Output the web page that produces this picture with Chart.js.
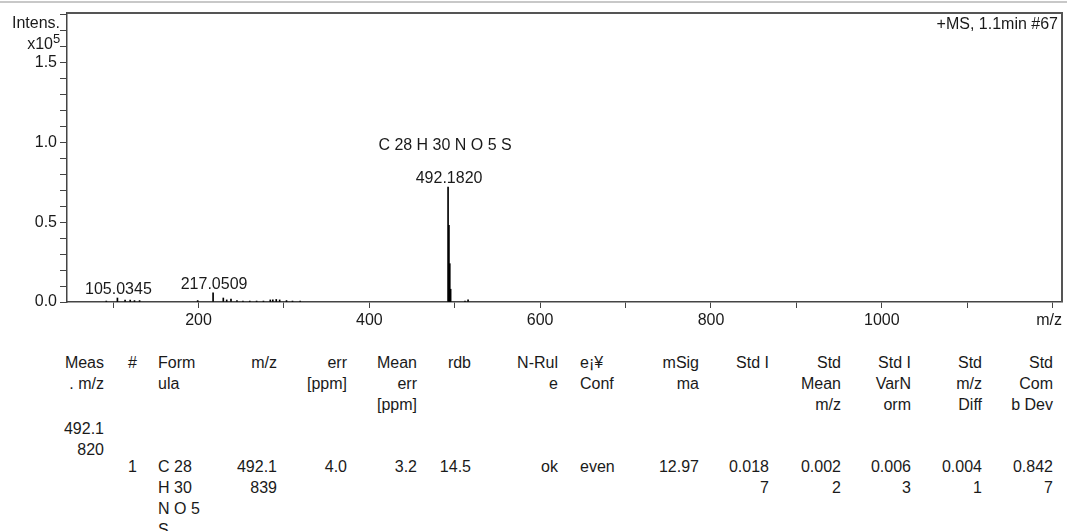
<!DOCTYPE html>
<html>
<head>
<meta charset="utf-8">
<script src="https://cdn.jsdelivr.net/npm/chart.js@4.4.1/dist/chart.umd.min.js"></script>
<style>
body { margin: 0; background: #fff; width: 1067px; height: 531px; overflow: hidden; font-family: 'Liberation Sans', Arial, sans-serif; color: #1a1a1a; }
#topline { position: absolute; left: 0; top: 1px; width: 1067px; height: 2px; background: #c8c8c8; }
#wrap { position: absolute; left: 0; top: 0; width: 1067px; height: 340px; }
.cell { position: absolute; font-size: 16px; line-height: 21px; white-space: pre; }
</style>
</head>
<body>
<div id="topline"></div>
<div id="wrap"><canvas id="msChart" width="1067" height="340"></canvas></div>
<div id="table"></div>
<script>
// stick spectrum: m/z and intensity (x10^5)
const peakMz = [92.0, 105.03, 114.0, 120.0, 125.0, 131.0, 199.0, 217.05, 229.0, 233.0, 238.0, 245.0, 252.0, 260.0, 268.0, 276.0, 284.0, 287.0, 291.0, 295.0, 303.0, 310.0, 319.0, 492.18, 493.19, 494.18, 495.18, 512.0, 515.6];
const peakIntensity = [0.006, 0.025, 0.012, 0.012, 0.009, 0.009, 0.009, 0.057, 0.025, 0.013, 0.019, 0.009, 0.006, 0.006, 0.006, 0.006, 0.013, 0.013, 0.016, 0.013, 0.009, 0.006, 0.006, 0.72, 0.48, 0.24, 0.08, 0.006, 0.013];

// labelled peaks
const labelMz = [105.0345, 217.0509, 492.1820];
const labelIntensity = [0.025, 0.057, 0.72];
const formulaText = 'C 28 H 30 N O 5 S';
const scanText = '+MS, 1.1min #67';

// axes
const xTicks = [100, 200, 300, 400, 500, 600, 700, 800, 900, 1000, 1100, 1200];
const xTickLabels = ['', '200', '', '400', '', '600', '', '800', '', '1000', '', ''];
const yTicks = [0, 0.1, 0.2, 0.3, 0.4, 0.5, 0.6, 0.7, 0.8, 0.9, 1.0, 1.1, 1.2, 1.3, 1.4, 1.5, 1.6, 1.7, 1.8];
const yTickLabels = ['0.0', '', '', '', '', '0.5', '', '', '', '', '1.0', '', '', '', '', '1.5', '', '', ''];

// formula table
const tableHeaders = ['Meas\n. m/z', '#', 'Form\nula', 'm/z', 'err\n[ppm]', 'Mean\nerr\n[ppm]', 'rdb', 'N-Rul\ne', 'e¡¥\nConf', 'mSig\nma', 'Std I', 'Std\nMean\nm/z', 'Std I\nVarN\norm', 'Std\nm/z\nDiff', 'Std\nCom\nb Dev'];
const measuredRow = ['492.1\n820', '', '', '', '', '', '', '', '', '', '', '', '', '', ''];
const candidateRow = ['', '1', 'C 28\nH 30\nN O 5\nS', '492.1\n839', '4.0', '3.2', '14.5', 'ok', 'even', '12.97', '0.018\n7', '0.002\n2', '0.006\n3', '0.004\n1', '0.842\n7'];

// column anchors for the table
const columnX = [104, 137, 158, 277, 347, 417, 471, 558, 580, 699, 769, 841, 911, 982, 1053];
const columnAlign = ['right', 'right', 'left', 'right', 'right', 'right', 'right', 'right', 'left', 'right', 'right', 'right', 'right', 'right', 'right'];
const rowTops = [352, 418, 456];

const FONT = '"Liberation Sans", Arial, sans-serif';
const INK = '#1a1a1a';
const AXIS = '#444';

function buildTable() {
    const holder = document.getElementById('table');
    [tableHeaders, measuredRow, candidateRow].forEach((row, r) => {
        row.forEach((text, c) => {
            if (!text) return;
            const el = document.createElement('div');
            el.className = 'cell';
            el.textContent = text;
            el.style.top = rowTops[r] + 'px';
            el.style.textAlign = columnAlign[c];
            if (columnAlign[c] === 'right') {
                el.style.right = (1067 - columnX[c]) + 'px';
            } else {
                el.style.left = columnX[c] + 'px';
            }
            holder.appendChild(el);
        });
    });
}

// frame, peak labels and header texts
const annotatePlugin = {
    id: 'annotate',
    afterDraw(chart) {
        const { ctx, chartArea, scales } = chart;
        const x = scales.x;
        const y = scales.y;
        ctx.save();

        // top and right frame
        ctx.strokeStyle = '#555';
        ctx.lineWidth = 2;
        ctx.beginPath();
        ctx.moveTo(chartArea.left, chartArea.top);
        ctx.lineTo(chartArea.right, chartArea.top);
        ctx.lineTo(chartArea.right, chartArea.bottom);
        ctx.stroke();

        ctx.fillStyle = INK;
        ctx.font = '16px ' + FONT;
        ctx.textBaseline = 'alphabetic';

        ctx.textAlign = 'center';
        labelMz.forEach((mz, i) => {
            const px = x.getPixelForValue(mz);
            const py = y.getPixelForValue(labelIntensity[i]);
            ctx.fillText(mz.toFixed(4), px + 1, py - 4);
            if (i === labelMz.length - 1) {
                ctx.fillText(formulaText, px - 3, py - 37);
            }
        });

        ctx.textAlign = 'right';
        ctx.fillText(scanText, chartArea.right - 4, 29);
        ctx.fillText('m/z', chartArea.right, 325);
        ctx.fillText('Intens.', 60, 28);
        ctx.fillText('x10', 53, 49);
        ctx.font = '13px ' + FONT;
        ctx.textAlign = 'left';
        ctx.fillText('5', 53, 43);

        ctx.restore();
    }
};

function drawChart() {
    const ctx = document.getElementById('msChart').getContext('2d');
    new Chart(ctx, {
        type: 'bar',
        data: {
            datasets: [{
                data: peakMz.map((m, i) => ({ x: m, y: peakIntensity[i] })),
                backgroundColor: '#000',
                borderWidth: 0,
                barThickness: 1,
                grouped: false
            }]
        },
        options: {
            responsive: false,
            animation: false,
            layout: { padding: { top: 13, right: 5, left: 0, bottom: 0 } },
            plugins: { legend: { display: false }, tooltip: { enabled: false } },
            scales: {
                x: {
                    type: 'linear',
                    min: 46,
                    max: 1211,
                    offset: false,
                    afterBuildTicks: s => { s.ticks = xTicks.map(v => ({ value: v })); },
                    afterFit: s => { s.height = 38; },
                    ticks: {
                        callback: (v, i) => xTickLabels[i],
                        font: { family: FONT, size: 16 },
                        color: INK,
                        padding: 3,
                        maxRotation: 0,
                        autoSkip: false
                    },
                    grid: { drawOnChartArea: false, offset: false, tickLength: 6, color: AXIS, lineWidth: 1 },
                    border: { color: AXIS, width: 1.5 }
                },
                y: {
                    min: 0,
                    max: 1.81,
                    afterBuildTicks: s => { s.ticks = yTicks.map(v => ({ value: v })); },
                    afterFit: s => { s.width = 67; },
                    ticks: {
                        callback: (v, i) => yTickLabels[i],
                        font: { family: FONT, size: 16 },
                        color: INK,
                        padding: 3,
                        autoSkip: false
                    },
                    grid: { drawOnChartArea: false, tickLength: 7, color: AXIS, lineWidth: 1 },
                    border: { color: AXIS, width: 1.5 }
                }
            }
        },
        plugins: [annotatePlugin]
    });
}

window.onload = function() {
    buildTable();
    drawChart();
};
</script>
</body>
</html>
